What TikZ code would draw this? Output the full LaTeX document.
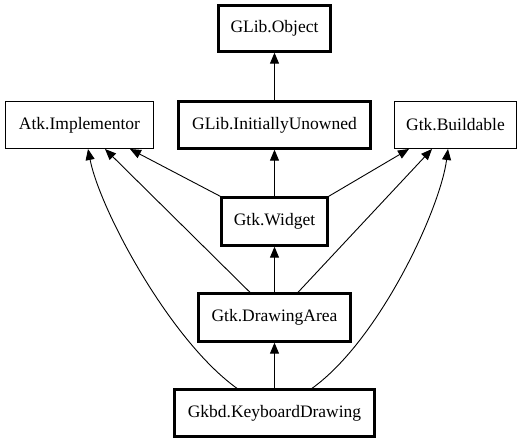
\documentclass[tikz,border=0pt]{standalone}
\usepackage{fontspec}
\setmainfont{Liberation Serif}
\usetikzlibrary{arrows.meta,calc}
\tikzset{
  cls/.style={draw, rectangle, inner sep=0pt, font=\fontsize{17.5}{19}\selectfont},
  thin/.style={cls, line width=1pt},
  thick/.style={cls, line width=2.3pt},
  inh/.style={line width=0.9pt, -{Triangle[length=11pt,width=9pt]}},
}
\begin{document}
\begin{tikzpicture}[x=1pt,y=-1pt]
\useasboundingbox (0,0) rectangle (523,443);
\node[thick, minimum width=112pt, minimum height=46pt] (obj) at (274.5,28.5) {GLib.Object};
\node[thin, minimum width=148pt, minimum height=47pt] (atk) at (79.5,125) {Atk.Implementor};
\node[thick, minimum width=192pt, minimum height=47pt] (iu) at (274.5,125) {GLib.InitiallyUnowned};
\node[thin, minimum width=122pt, minimum height=47pt] (bld) at (455.5,125) {Gtk.Buildable};
\node[thick, minimum width=106pt, minimum height=48pt] (wid) at (274.5,221.5) {Gtk.Widget};
\node[thick, minimum width=152pt, minimum height=48pt] (da) at (274.5,317.5) {Gtk.DrawingArea};
\node[thick, minimum width=200pt, minimum height=47pt] (kd) at (274.5,413) {Gkbd.KeyboardDrawing};

\draw[inh] (iu.north) -- (obj.south);
\draw[inh] (wid.north) -- (iu.south);
\draw[inh] (da.north) -- (wid.south);
\draw[inh] (kd.north) -- (da.south);
\draw[inh] (wid.north west) -- ($(atk.south)+(50.5,0)$);
\draw[inh] (wid.north east) -- ($(bld.south)+(-46.5,0)$);
\draw[inh] ($(da.north)+(-24.5,0)$) -- ($(atk.south)+(25.5,0)$);
\draw[inh] ($(da.north)+(23.5,0)$) -- ($(bld.south)+(-23.5,0)$);
\draw[inh] ($(kd.north)+(-37.5,0)$) .. controls +(-67,-48) and +(12,61) .. ($(atk.south)+(8.5,0)$);
\draw[inh] ($(kd.north)+(37.5,0)$) .. controls +(67,-48) and +(-8,61) .. ($(bld.south)+(-7.5,0)$);
\end{tikzpicture}
\end{document}
